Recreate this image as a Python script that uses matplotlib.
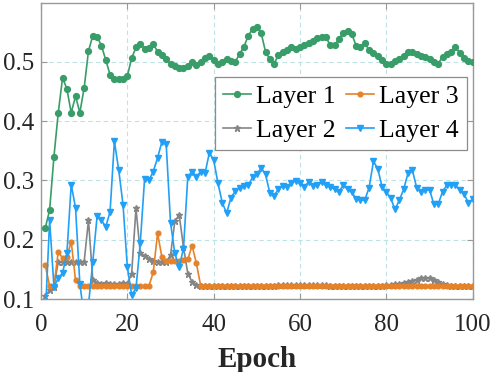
import matplotlib
matplotlib.use("Agg")
import matplotlib.pyplot as plt
import numpy as np

epochs = list(range(1, 101))

layer1 = [0.220, 0.250, 0.340, 0.414, 0.473, 0.454, 0.414, 0.442, 0.414, 0.456,
          0.518, 0.544, 0.542, 0.527, 0.503, 0.478, 0.471, 0.471, 0.471, 0.476,
          0.506, 0.524, 0.530, 0.522, 0.523, 0.530, 0.517, 0.511, 0.504, 0.497,
          0.492, 0.489, 0.489, 0.493, 0.499, 0.495, 0.500, 0.506, 0.510, 0.503,
          0.496, 0.500, 0.504, 0.502, 0.500, 0.513, 0.525, 0.544, 0.555, 0.559,
          0.548, 0.517, 0.504, 0.497, 0.511, 0.517, 0.520, 0.524, 0.522, 0.524,
          0.528, 0.531, 0.535, 0.540, 0.542, 0.541, 0.528, 0.528, 0.538, 0.549,
          0.552, 0.546, 0.527, 0.525, 0.531, 0.520, 0.514, 0.509, 0.503, 0.497,
          0.497, 0.501, 0.505, 0.510, 0.517, 0.516, 0.513, 0.510, 0.508, 0.505,
          0.500, 0.497, 0.508, 0.513, 0.516, 0.525, 0.515, 0.506, 0.502, 0.500]

layer2 = [0.105, 0.115, 0.121, 0.163, 0.163, 0.163, 0.163, 0.163, 0.163, 0.163,
          0.233, 0.132, 0.127, 0.126, 0.127, 0.126, 0.125, 0.126, 0.127, 0.126,
          0.143, 0.253, 0.177, 0.173, 0.168, 0.165, 0.163, 0.163, 0.163, 0.174,
          0.231, 0.242, 0.188, 0.143, 0.129, 0.123, 0.122, 0.122, 0.122, 0.122,
          0.122, 0.122, 0.122, 0.122, 0.122, 0.122, 0.122, 0.122, 0.122, 0.122,
          0.122, 0.122, 0.122, 0.122, 0.124, 0.124, 0.124, 0.124, 0.124, 0.124,
          0.124, 0.124, 0.124, 0.124, 0.124, 0.123, 0.122, 0.122, 0.122, 0.122,
          0.122, 0.122, 0.122, 0.122, 0.122, 0.122, 0.122, 0.122, 0.122, 0.123,
          0.124, 0.125, 0.126, 0.127, 0.128, 0.130, 0.133, 0.135, 0.135, 0.135,
          0.132, 0.128, 0.126, 0.124, 0.122, 0.122, 0.122, 0.122, 0.122, 0.122]

layer3 = [0.157, 0.122, 0.122, 0.180, 0.169, 0.171, 0.197, 0.132, 0.122, 0.122,
          0.122, 0.122, 0.122, 0.122, 0.122, 0.122, 0.122, 0.122, 0.122, 0.122,
          0.122, 0.122, 0.122, 0.122, 0.122, 0.145, 0.211, 0.171, 0.165, 0.165,
          0.165, 0.165, 0.166, 0.167, 0.190, 0.160, 0.122, 0.122, 0.122, 0.122] + [0.122] * 60

layer4 = [0.070, 0.233, 0.121, 0.135, 0.144, 0.177, 0.293, 0.254, 0.126, 0.070,
          0.090, 0.163, 0.240, 0.233, 0.222, 0.247, 0.366, 0.318, 0.259, 0.154,
          0.107, 0.118, 0.195, 0.303, 0.300, 0.315, 0.338, 0.365, 0.361, 0.229,
          0.177, 0.154, 0.185, 0.306, 0.315, 0.306, 0.315, 0.312, 0.347, 0.334,
          0.295, 0.262, 0.245, 0.271, 0.282, 0.288, 0.290, 0.292, 0.305, 0.310,
          0.321, 0.310, 0.279, 0.274, 0.286, 0.290, 0.289, 0.296, 0.299, 0.295,
          0.289, 0.298, 0.290, 0.292, 0.297, 0.293, 0.289, 0.285, 0.281, 0.292,
          0.285, 0.281, 0.268, 0.267, 0.267, 0.288, 0.332, 0.320, 0.289, 0.280,
          0.270, 0.251, 0.267, 0.285, 0.312, 0.318, 0.288, 0.281, 0.284, 0.284,
          0.260, 0.260, 0.281, 0.292, 0.293, 0.292, 0.284, 0.277, 0.262, 0.268]

plt.rcParams['font.family'] = ['Liberation Serif', 'DejaVu Serif']

fig = plt.figure(figsize=(4.98, 3.72), dpi=100)
ax = fig.add_axes([0.0823, 0.196, 0.867, 0.796])

ax.plot(epochs, layer1, color='#389d68', marker='o', ms=4.2, lw=1.2, label='Layer 1', zorder=4)
ax.plot(epochs, layer2, color='#858585', marker='*', ms=4.5, lw=1.2, label='Layer 2', zorder=2)
ax.plot(epochs, layer3, color='#e5822a', marker='o', ms=3.4, lw=1.2, label='Layer 3', zorder=3)
ax.plot(epochs, layer4, color='#22a0f5', marker='v', ms=4.4, lw=1.2, label='Layer 4', zorder=3)

ax.set_xlim(0, 100)
ax.set_ylim(0.1, 0.599)
ax.set_xticks([0, 20, 40, 60, 80, 100])
ax.set_yticks([0.1, 0.2, 0.3, 0.4, 0.5])
ax.set_yticklabels(['0.1', '0.2', '0.3', '0.4', '0.5'])
ax.grid(True, linestyle=(0, (4, 3)), color='#bfe2e2', lw=0.8)
ax.set_axisbelow(True)

for s in ax.spines.values():
    s.set_color('#999999')
    s.set_linewidth(1.0)
ax.tick_params(direction='in', top=True, right=True, length=4, color='#999999',
               labelsize=18, labelcolor='#262626')
ax.tick_params(axis='x', pad=11)
ax.tick_params(axis='y', pad=5)

ax.set_xlabel('Epoch', fontsize=21, fontweight='bold', color='#262626', labelpad=7)

leg = ax.legend(ncol=2, loc='upper right', bbox_to_anchor=(0.986, 0.75), fontsize=18.5,
                handlelength=1.1, handletextpad=0.2, columnspacing=0.4,
                labelspacing=0.45, borderpad=0.3, borderaxespad=0, fancybox=False,
                framealpha=1)
leg.get_frame().set_edgecolor('#8c8c8c')
leg.get_frame().set_linewidth(0.9)

fig.savefig('out.png', dpi=100)
